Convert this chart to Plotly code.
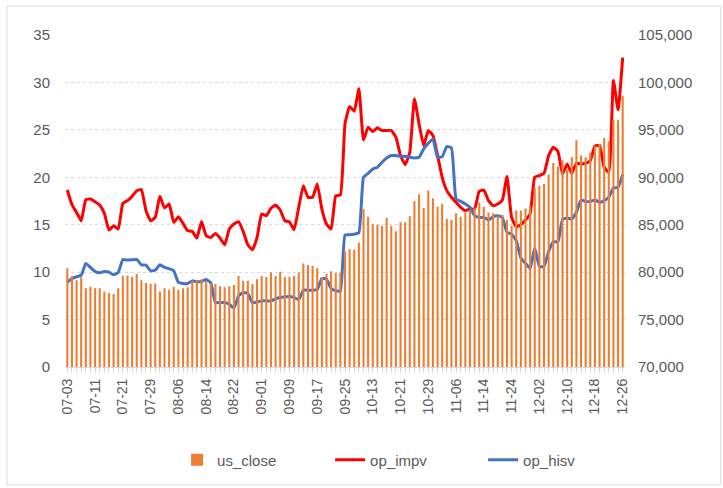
import pandas as pd
import plotly.graph_objects as go

# trading days (China A-share calendar, National Day holiday removed)
holidays = ["2025-10-01", "2025-10-02", "2025-10-03",
            "2025-10-06", "2025-10-07", "2025-10-08"]
dates = [d.strftime("%m-%d") for d in
         pd.bdate_range("2025-07-03", "2025-12-26", freq="C", holidays=holidays)]

us_close = [
    80400, 79600, 79150, 79450, 78300, 78450, 78300, 78300, 77950, 77800,
    77700, 78300, 79600, 79650, 79500, 79800, 79150, 78850, 78750, 78800,
    77950, 78300, 78150, 78450, 78150, 78300, 78400, 79100, 79150, 79250,
    79100, 78800, 78750, 78500, 78400, 78500, 78650, 79600, 79100, 79100,
    78750, 79250, 79600, 79500, 79950, 79600, 80050, 79500, 79500, 79600,
    79950, 80900, 80750, 80650, 80400, 79500, 79800, 80100, 79900, 79950,
    82200, 82450, 82400, 83100, 86650, 85850, 85050, 85000, 84900, 85700,
    84900, 84300, 85250, 85250, 85900, 87500, 88200, 86800, 88600, 87800,
    86900, 87200, 85600, 85500, 86200, 85850, 86300, 86550, 86750, 87350,
    86900, 86300, 86200, 85950, 86050, 85500, 84900, 86500, 86500, 86700,
    87000, 88900, 89100, 89300, 90300, 91500, 91100, 91800, 90800, 92100,
    93900, 92300, 92100, 92600, 93350, 93500, 94150, 93800, 96050, 96050,
    98600,
]

op_impv = [
    18.66, 17.11, 16.30, 15.42, 17.64, 17.71, 17.43, 17.08, 16.20, 14.44,
    14.89, 14.54, 17.25, 17.54, 17.99, 18.59, 18.70, 16.48, 15.42, 15.77,
    17.99, 16.76, 17.18, 15.25, 15.85, 15.14, 14.37, 14.30, 13.59, 15.35,
    13.84, 13.66, 14.08, 13.59, 12.89, 14.54, 15.07, 15.32, 14.30, 12.89,
    12.36, 13.66, 16.13, 15.95, 16.73, 17.08, 16.55, 15.42, 15.30, 14.47,
    16.83, 19.12, 17.89, 17.89, 19.30, 16.65, 15.07, 14.54, 18.06, 18.13,
    25.63, 27.46, 26.97, 29.33, 23.94, 25.28, 24.82, 25.21, 24.93, 24.93,
    24.93, 24.23, 22.29, 21.34, 22.64, 28.27, 25.63, 23.35, 24.93, 24.40,
    22.29, 20.00, 18.59, 17.89, 17.36, 16.83, 16.48, 16.65, 16.65, 18.52,
    18.66, 17.54, 17.01, 17.18, 17.61, 20.07, 15.77, 14.80, 15.00, 15.50,
    16.13, 20.00, 20.18, 20.42, 22.29, 23.17, 22.75, 20.35, 21.41, 20.42,
    21.48, 21.41, 21.48, 21.76, 23.31, 23.35, 21.06, 20.53, 30.21, 27.11,
    32.61,
]

op_hisv = [
    8.91, 9.33, 9.51, 9.68, 10.92, 10.49, 10.07, 9.93, 10.07, 10.00,
    9.72, 9.96, 11.34, 11.27, 11.30, 11.34, 10.77, 10.74, 10.14, 10.21,
    10.77, 10.49, 10.35, 10.15, 8.91, 8.80, 8.80, 9.08, 8.98, 9.01,
    9.23, 8.87, 6.80, 6.80, 6.80, 6.62, 6.20, 7.50, 7.85, 7.75,
    6.76, 6.87, 6.97, 6.97, 6.97, 7.18, 7.32, 7.39, 7.42, 7.32,
    7.11, 8.10, 8.10, 8.10, 8.17, 9.33, 9.26, 8.27, 8.03, 8.03,
    13.91, 13.94, 14.01, 14.15, 20.00, 20.42, 20.88, 21.06, 21.58, 22.04,
    22.29, 22.29, 22.22, 22.22, 22.11, 22.04, 22.11, 22.99, 23.59, 24.05,
    22.11, 22.18, 23.24, 23.10, 17.71, 17.46, 17.18, 16.83, 15.95, 15.77,
    15.77, 15.49, 15.85, 15.95, 15.77, 14.19, 14.01, 13.31, 11.50, 10.92,
    10.39, 12.54, 10.60, 10.60, 12.18, 13.20, 13.20, 15.56, 15.70, 15.60,
    16.30, 17.61, 17.43, 17.46, 17.61, 17.36, 17.54, 17.89, 18.87, 18.94,
    20.28,
]

left_ticks = [0, 5, 10, 15, 20, 25, 30, 35]
right_ticks = [70000, 75000, 80000, 85000, 90000, 95000, 100000, 105000]

font_name = "Liberation Sans"
grey = "#595959"

fig = go.Figure()
fig.add_trace(
    go.Bar(x=dates, y=us_close, name="us_close", marker_color="#ED7D31",
           marker_line_width=0, yaxis="y2")
)
fig.add_trace(
    go.Scatter(x=dates, y=op_impv, name="op_impv", mode="lines",
               line=dict(color="#FF0000", width=3, shape="spline", smoothing=0.4))
)
fig.add_trace(
    go.Scatter(x=dates, y=op_hisv, name="op_hisv", mode="lines",
               line=dict(color="#4472C4", width=3, shape="spline", smoothing=0.4))
)

# ticks on every category, labels on every 6th
tick_text = [d if i % 6 == 0 else "" for i, d in enumerate(dates)]

fig.update_layout(
    width=723,
    height=488,
    margin=dict(l=65, r=98, t=35, b=121),
    paper_bgcolor="white",
    plot_bgcolor="white",
    font=dict(family=font_name, size=15, color=grey),
    bargap=0.55,
    xaxis=dict(
        type="category",
        tickmode="array",
        tickvals=dates,
        ticktext=tick_text,
        tickangle=-90,
        ticks="outside",
        ticklen=5,
        tickcolor="#d9d9d9",
        showline=True,
        linecolor="#d9d9d9",
        showgrid=False,
        tickfont=dict(size=14),
        range=[-0.5, len(dates) - 0.5],
        automargin=False,
    ),
    yaxis=dict(
        range=[0, 35],
        tickvals=left_ticks,
        showgrid=True,
        gridcolor="#d9d9d9",
        griddash="dot",
        zeroline=False,
        ticklabelstandoff=14,
        automargin=False,
    ),
    yaxis2=dict(
        range=[70000, 105000],
        tickvals=right_ticks,
        tickformat=",",
        overlaying="y",
        side="right",
        showgrid=False,
        zeroline=False,
        ticklabelstandoff=12,
        automargin=False,
    ),
    legend=dict(
        orientation="h",
        x=0.61,
        xanchor="center",
        y=-0.28,
        yanchor="middle",
        entrywidth=108,
        font=dict(size=15),
        traceorder="normal",
    ),
    shapes=[
        dict(type="rect", xref="paper", yref="paper",
             x0=-0.1036, x1=1.171, y0=-0.355, y1=1.087,
             line=dict(color="#d9d9d9", width=1))
    ],
)

fig.write_html(
    "out.html",
    config={"displayModeBar": False},
    post_script="document.body.style.margin='0';",
)
